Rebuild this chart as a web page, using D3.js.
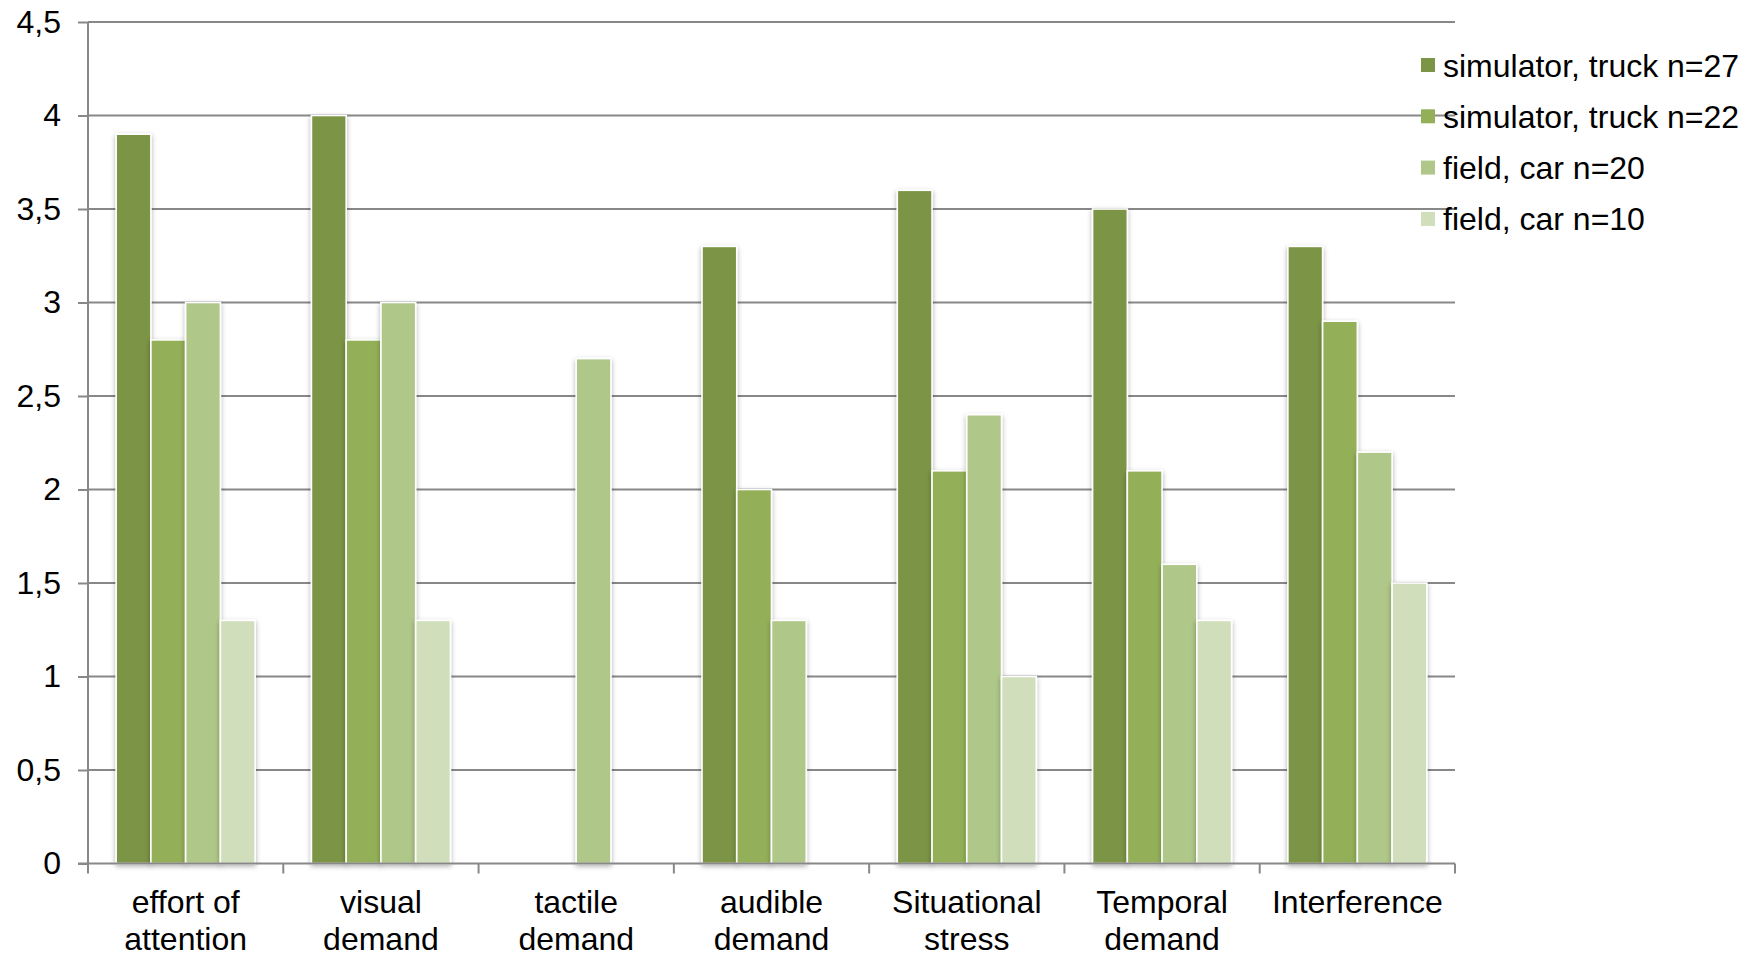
<!DOCTYPE html>
<html>
<head>
<meta charset="utf-8">
<script src="https://cdn.jsdelivr.net/npm/d3@7"></script>
<style>
  html, body { margin: 0; padding: 0; background: #fff; }
  svg { display: block; font-family: "Liberation Sans", Arial, sans-serif; }
</style>
</head>
<body>
<svg id="chart" width="1755" height="957"></svg>
<script>
// Workload ratings per dimension, one array per sample group
const categories = [
  ["effort of", "attention"],
  ["visual", "demand"],
  ["tactile", "demand"],
  ["audible", "demand"],
  ["Situational", "stress"],
  ["Temporal", "demand"],
  ["Interference"]
];
const seriesNames = [
  "simulator, truck n=27",
  "simulator, truck n=22",
  "field, car n=20",
  "field, car n=10"
];
const simTruck27 = [3.9, 4.0, null, 3.3, 3.6, 3.5, 3.3];
const simTruck22 = [2.8, 2.8, null, 2.0, 2.1, 2.1, 2.9];
const fieldCar20 = [3.0, 3.0, 2.7, 1.3, 2.4, 1.6, 2.2];
const fieldCar10 = [1.3, 1.3, null, null, 1.0, 1.3, 1.5];
const yTicks = [0, 0.5, 1, 1.5, 2, 2.5, 3, 3.5, 4, 4.5];
const colors = ["#7b9445", "#93b058", "#afc788", "#d0debb"];

const seriesValues = [simTruck27, simTruck22, fieldCar20, fieldCar10];

const svg = d3.select("#chart");
const plotLeft = 88, plotRight = 1455, plotTop = 22, plotBottom = 863.5;

const x = d3.scaleBand()
  .domain(d3.range(categories.length))
  .range([plotLeft, plotRight])
  .paddingInner(0).paddingOuter(0);

const xs = d3.scaleBand()
  .domain(d3.range(seriesNames.length))
  .range([0, x.bandwidth()])
  .paddingInner(0).paddingOuter(0.81);

const y = d3.scaleLinear().domain([0, 4.5]).range([plotBottom, plotTop]);

// soft drop shadow under the bars
const defs = svg.append("defs");
const f = defs.append("filter").attr("id", "shadow")
  .attr("x", "-30%").attr("y", "-10%").attr("width", "160%").attr("height", "120%");
f.append("feDropShadow")
  .attr("dx", 0).attr("dy", 2).attr("stdDeviation", 2.5)
  .attr("flood-color", "#000").attr("flood-opacity", 0.32);

// horizontal gridlines
const grid = svg.append("g");
grid.selectAll("line")
  .data(yTicks.filter(d => d > 0))
  .join("line")
  .attr("x1", plotLeft).attr("x2", plotRight)
  .attr("y1", d => y(d)).attr("y2", d => y(d))
  .attr("stroke", "#888").attr("stroke-width", 2);

// y axis
const yAxis = svg.append("g")
  .attr("transform", `translate(${plotLeft},0)`)
  .call(d3.axisLeft(y).tickValues(yTicks).tickSize(10).tickPadding(17)
    .tickFormat(d => String(d).replace(".", ",")));
yAxis.select(".domain").attr("stroke", "#888").attr("stroke-width", 2).attr("d", `M0,${plotTop}V${plotBottom}`);
yAxis.selectAll(".tick line").attr("stroke", "#888").attr("stroke-width", 2);
yAxis.selectAll(".tick text")
  .attr("font-size", 32).attr("fill", "#000")
  .attr("font-family", "'Liberation Sans', Arial, sans-serif");

// bars
const groups = svg.append("g").selectAll("g")
  .data(seriesValues)
  .join("g")
  .attr("fill", (d, i) => colors[i]);

groups.each(function(vals, si) {
  d3.select(this).selectAll("rect")
    .data(vals.map((v, ci) => ({ v, ci })).filter(d => d.v != null))
    .join("rect")
    .attr("x", d => x(d.ci) + xs(si))
    .attr("width", xs.bandwidth())
    .attr("y", d => y(d.v))
    .attr("height", d => y(0) - y(d.v))
    .attr("stroke", "#fff")
    .attr("stroke-width", 1.6)
    .attr("filter", "url(#shadow)");
});

// x axis with ticks at category boundaries
const xAxisG = svg.append("g");
xAxisG.append("line")
  .attr("x1", plotLeft - 10).attr("x2", plotRight)
  .attr("y1", plotBottom).attr("y2", plotBottom)
  .attr("stroke", "#888").attr("stroke-width", 2);
xAxisG.selectAll("line.cat")
  .data(d3.range(categories.length + 1))
  .join("line").attr("class", "cat")
  .attr("x1", i => i < categories.length ? x(i) : plotRight)
  .attr("x2", i => i < categories.length ? x(i) : plotRight)
  .attr("y1", plotBottom).attr("y2", plotBottom + 10)
  .attr("stroke", "#888").attr("stroke-width", 2);

const labels = svg.append("g").selectAll("text")
  .data(categories)
  .join("text")
  .attr("x", (d, i) => x(i) + x.bandwidth() / 2)
  .attr("y", 913)
  .attr("text-anchor", "middle")
  .attr("font-size", 32)
  .attr("fill", "#000");
labels.selectAll("tspan")
  .data(d => d)
  .join("tspan")
  .attr("x", function() { return d3.select(this.parentNode).attr("x"); })
  .attr("dy", (d, i) => i === 0 ? 0 : 37)
  .text(d => d);

// legend
const legend = svg.append("g").selectAll("g")
  .data(seriesNames)
  .join("g")
  .attr("transform", (d, i) => `translate(1421,${65 + i * 51.3})`);
legend.append("rect")
  .attr("x", 0).attr("y", -7).attr("width", 14).attr("height", 14)
  .attr("fill", (d, i) => colors[i]);
legend.append("text")
  .attr("x", 22).attr("y", 0).attr("dy", "0.36em")
  .attr("font-size", 32).attr("fill", "#000")
  .text(d => d);
</script>
</body>
</html>
